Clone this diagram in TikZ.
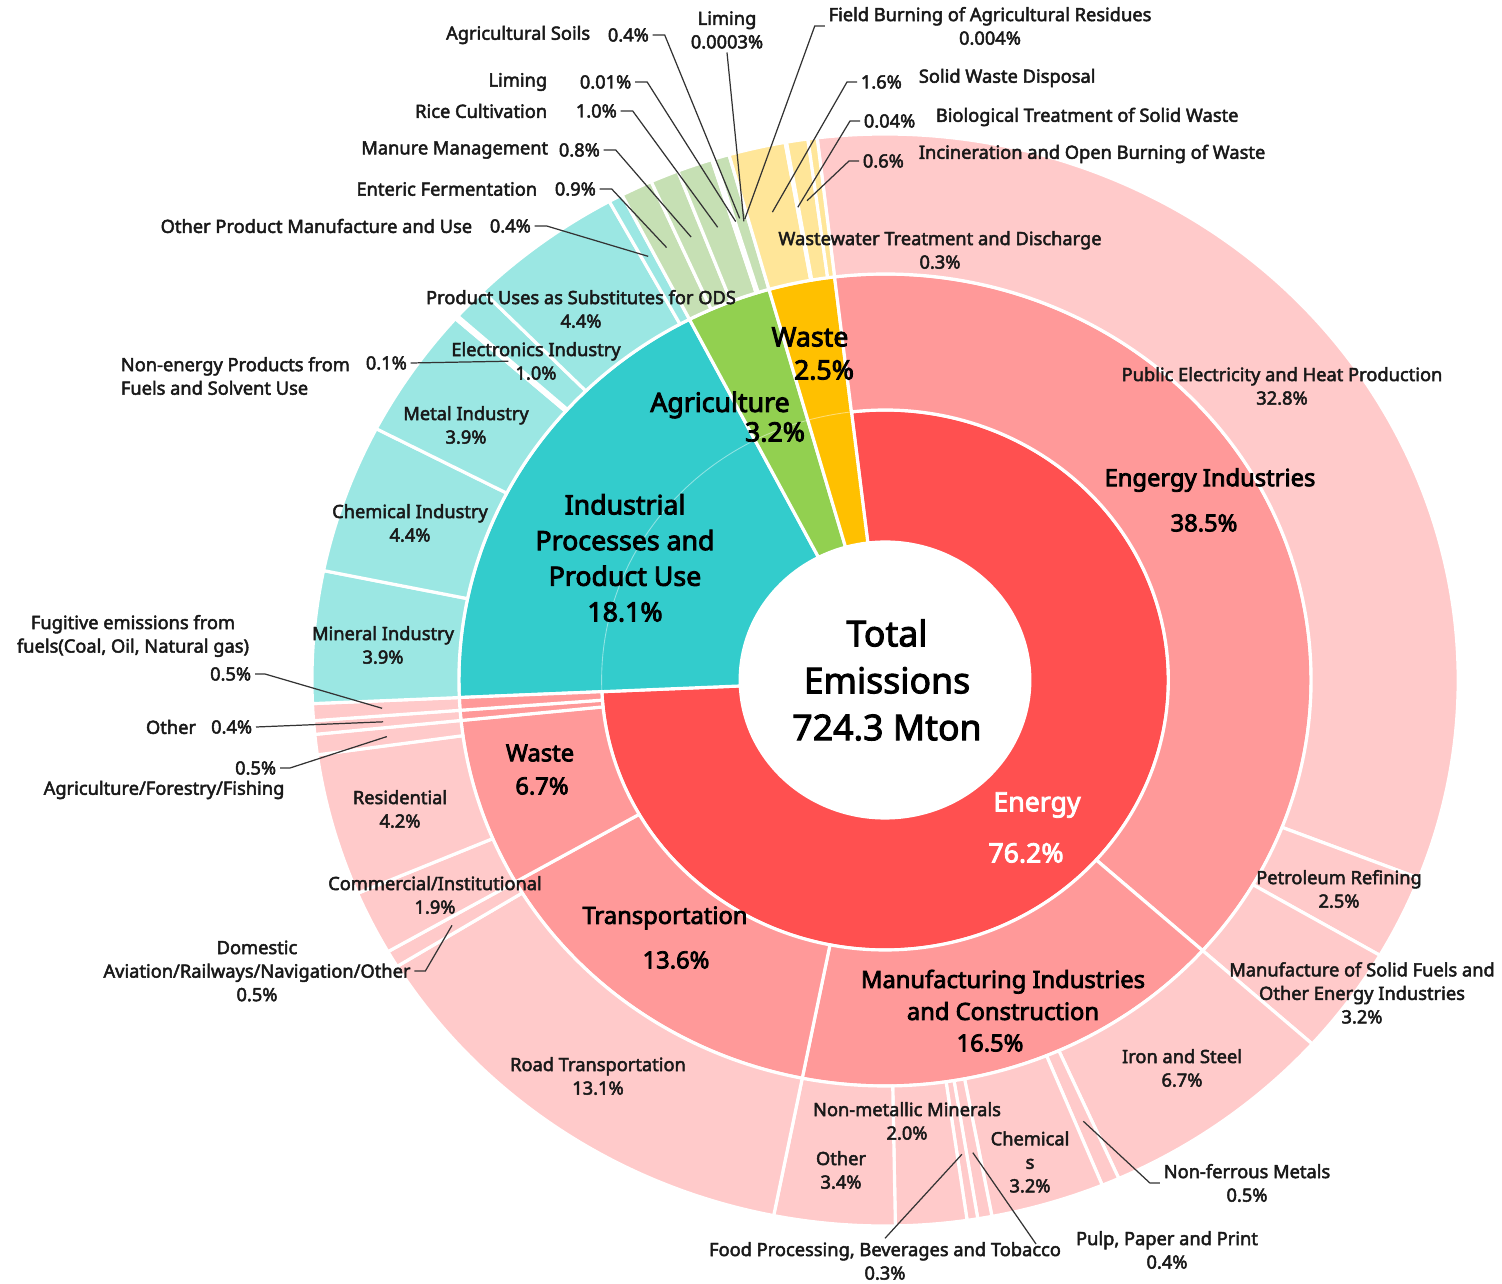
\documentclass[tikz,border=0pt]{standalone}
\usepackage{fontspec}
\setmainfont{Noto Sans}
\newfontfamily\lblfont{Noto Sans}[FakeBold=2.6]
\newfontfamily\catfont{Noto Sans}[FakeBold=3.2]
\usetikzlibrary{calc}
\definecolor{enA}{HTML}{FF5050}
\definecolor{enB}{HTML}{FF9999}
\definecolor{enC}{HTML}{FFCACA}
\definecolor{ipA}{HTML}{33CCCC}
\definecolor{ipC}{HTML}{9BE7E3}
\definecolor{agA}{HTML}{92D050}
\definecolor{agC}{HTML}{C6E0B4}
\definecolor{waA}{HTML}{FFC000}
\definecolor{waC}{HTML}{FFE699}
\def\ringpart[#1](#2:#3:#4:#5){\filldraw[fill=#1, draw=white, line width=1.8pt, line join=round] ({96.8-3.6*#4}:#2) arc[start angle={96.8-3.6*#4}, end angle={96.8-3.6*#5}, radius=#2] -- ({96.8-3.6*#5}:#3) arc[start angle={96.8-3.6*#5}, end angle={96.8-3.6*#4}, radius=#3] -- cycle;}
\tikzset{
  lbl/.style={font=\lblfont\fontsize{10.4}{13.4}\selectfont, text=black!90, align=center, inner sep=2pt},
  catlbl/.style={font=\catfont\fontsize{15.2}{20.3}\selectfont, align=center, inner sep=1pt},
  sublbl/.style={font=\catfont\fontsize{13.5}{18.2}\selectfont, align=center, inner sep=1pt},
  leader/.style={draw=black!80, line width=0.7pt}
}
\begin{document}
\begin{tikzpicture}[x=0.02cm, y=-0.02cm]
				\useasboundingbox (0,0) rectangle (1502,1284);
				
				\begin{scope}[shift={(885,680)}, x=0.021cm, y=0.02cm]
				\ringpart[enA](138:270:0:76.2)
				\ringpart[ipA](138:406:76.2:94.3)
				\ringpart[agA](138:406:94.3:97.5)
				\ringpart[waA](138:406:97.5:100)
				\draw[white, opacity=0.45, line width=0.5pt] ({96.8-3.6*76.2}:270) arc[start angle={96.8-3.6*76.2}, end angle={96.8-3.6*100}, radius=270];
				
				\ringpart[enB](270:406:0:38.5)
				\ringpart[enB](270:406:38.5:55)
				\ringpart[enB](270:406:55:68.6)
				\ringpart[enB](270:406:68.6:75.3)
				\ringpart[enB](270:406:75.3:75.7)
				\ringpart[enB](270:406:75.7:76.2)
				
				\ringpart[enC](406:546:0:32.8)
				\ringpart[enC](406:546:32.8:35.3)
				\ringpart[enC](406:546:35.3:38.5)
				\ringpart[enC](406:546:38.5:45.2)
				\ringpart[enC](406:546:45.2:45.7)
				\ringpart[enC](406:546:45.7:48.9)
				\ringpart[enC](406:546:48.9:49.3)
				\ringpart[enC](406:546:49.3:49.6)
				\ringpart[enC](406:546:49.6:51.6)
				\ringpart[enC](406:546:51.6:55)
				\ringpart[enC](406:546:55:68.1)
				\ringpart[enC](406:546:68.1:68.6)
				\ringpart[enC](406:546:68.6:70.5)
				\ringpart[enC](406:546:70.5:74.7)
				\ringpart[enC](406:546:74.7:75.3)
				\ringpart[enC](406:546:75.3:75.7)
				\ringpart[enC](406:546:75.7:76.2)
				
				\ringpart[ipC](406:546:76.2:80.1)
				\ringpart[ipC](406:546:80.1:84.5)
				\ringpart[ipC](406:546:84.5:88.4)
				\ringpart[ipC](406:546:88.4:88.5)
				\ringpart[ipC](406:546:88.5:89.5)
				\ringpart[ipC](406:546:89.5:93.9)
				\ringpart[ipC](406:546:93.9:94.3)
				
				\ringpart[agC](406:546:94.3:95.2)
				\ringpart[agC](406:546:95.2:96)
				\ringpart[agC](406:546:96:97)
				\ringpart[agC](406:546:97:97.08)
				\ringpart[agC](406:546:97.08:97.5)
				
				\ringpart[waC](406:546:97.5:99.1)
				\ringpart[waC](406:546:99.1:99.14)
				\ringpart[waC](406:546:99.14:99.74)
				\ringpart[waC](406:546:99.74:100)
				
				\coordinate (xOthProd) at ({96.8-3.6*94.1}:480);
				\coordinate (xEnteric) at ({96.8-3.6*94.75}:480);
				\coordinate (xManure) at ({96.8-3.6*95.6}:480);
				\coordinate (xRice) at ({96.8-3.6*96.5}:480);
				\coordinate (xLiming) at ({96.8-3.6*97.1}:480);
				\coordinate (xSoils) at ({96.8-3.6*97.25}:482);
				\coordinate (xLimingB) at ({96.8-3.6*97.35}:478);
				\coordinate (xField) at ({96.8-3.6*97.4}:480);
				\coordinate (xSolid) at ({96.8-3.6*98.3}:480);
				\coordinate (xBio) at ({96.8-3.6*99.12}:480);
				\coordinate (xIncin) at ({96.8-3.6*99.44}:485);
				\coordinate (xNonEn) at ({96.8-3.6*88.45}:480);
				\coordinate (xFug) at ({96.8-3.6*75.95}:480);
				\coordinate (xOther) at ({96.8-3.6*75.5}:480);
				\coordinate (xAFF) at ({96.8-3.6*75}:478);
				\coordinate (xDom) at ({96.8-3.6*68.35}:480);
				\coordinate (xNonFe) at ({96.8-3.6*45.45}:480);
				\coordinate (xPulp) at ({96.8-3.6*49.1}:480);
				\coordinate (xFood) at ({96.8-3.6*49.45}:480);
				\end{scope}
				
				\node[lbl, font=\lblfont\fontsize{20.3}{26.7}\selectfont, text=black] (total) at (887,680) {Total\\Emissions\\724.3 Mton};
				\node[catlbl, text=white] (enLbl) at (1037,805) {Energy};
				\node[catlbl, text=white] (enPct) at (1026,853) {76.2\%};
				\node[catlbl] (ippu) at (625,558) {Industrial\\Processes and\\Product Use\\18.1\%};
				\node[catlbl] (agLbl) at (720,405) {Agriculture};
				\node[catlbl] (agPct) at (775,432) {3.2\%};
				\node[catlbl] (waLbl) at (810,337) {Waste};
				\node[catlbl] (waPct) at (824,370) {2.5\%};
				
				\node[sublbl] (enind) at (1210,480) {Engergy Industries};
				\node[sublbl] (enindPct) at (1204,523) {38.5\%};
				\node[sublbl] (mfg) at (1003,995) {Manufacturing Industries\\and Construction};
				\node[sublbl] (mfgPct) at (990,1043) {16.5\%};
				\node[sublbl] (trans) at (665,918) {Transportation};
				\node[sublbl] (transPct) at (676,960) {13.6\%};
				\node[sublbl] (enwa) at (540,753) {Waste};
				\node[sublbl] (enwaPct) at (542,786) {6.7\%};
				
				\node[lbl, anchor=east] (othprodT) at (476,226) {Other Product Manufacture and Use};
				\node[lbl, anchor=west] (othprod) at (486,226) {0.4\%};
				\node[lbl, anchor=east] (entericT) at (541,189) {Enteric Fermentation};
				\node[lbl, anchor=west] (enteric) at (551,189) {0.9\%};
				\node[lbl, anchor=east] (manureT) at (552,150) {Manure Management};
				\node[lbl, anchor=west] (manure) at (555,150) {0.8\%};
				\node[lbl, anchor=east] (riceT) at (551,111) {Rice Cultivation};
				\node[lbl, anchor=west] (rice) at (572,111) {1.0\%};
				\node[lbl, anchor=east] (limingT) at (551,82) {Liming};
				\node[lbl, anchor=west] (liming) at (576,82) {0.01\%};
				\node[lbl, anchor=east] (soilsT) at (594,35) {Agricultural Soils};
				\node[lbl, anchor=west] (soils) at (604,35) {0.4\%};
				\node[lbl] (limingB) at (727,30) {Liming\\0.0003\%};
				\node[lbl] (field) at (990,26) {Field Burning of Agricultural Residues\\0.004\%};
				
				\node[lbl, anchor=west] (solid) at (857,82) {1.6\%};
				\node[lbl, anchor=west] (solidT) at (915,78) {Solid Waste Disposal};
				\node[lbl, anchor=west] (bio) at (860,121) {0.04\%};
				\node[lbl, anchor=west] (bioT) at (932,117) {Biological Treatment of Solid Waste};
				\node[lbl, anchor=west] (incin) at (859,161) {0.6\%};
				\node[lbl, anchor=west] (incinT) at (915,154) {Incineration and Open Burning of Waste};
				\node[lbl] (wwater) at (940,250) {Wastewater Treatment and Discharge\\0.3\%};
				
				\node[lbl] (pubel) at (1282,386) {Public Electricity and Heat Production\\32.8\%};
				\node[lbl] (petro) at (1339,889) {Petroleum Refining\\2.5\%};
				\node[lbl] (solidfuel) at (1362,993) {Manufacture of Solid Fuels and\\Other Energy Industries\\3.2\%};
				\node[lbl] (iron) at (1182,1068) {Iron and Steel\\6.7\%};
				\node[lbl] (nonfe) at (1247,1183) {Non-ferrous Metals\\0.5\%};
				\node[lbl] (pulp) at (1167,1250) {Pulp, Paper and Print\\0.4\%};
				\node[lbl] (food) at (885,1261) {Food Processing, Beverages and Tobacco\\0.3\%};
				\node[lbl] (chem) at (1030,1162) {Chemical\\s\\3.2\%};
				\node[lbl] (nonmet) at (907,1121) {Non-metallic Minerals\\2.0\%};
				\node[lbl] (othmfg) at (841,1170) {Other\\3.4\%};
				\node[lbl] (road) at (598,1076) {Road Transportation\\13.1\%};
				
				\node[lbl] (dom) at (257,971) {Domestic\\Aviation/Railways/Navigation/Other\\0.5\%};
				\node[lbl] (comm) at (435,895) {Commercial/Institutional\\1.9\%};
				\node[lbl] (resid) at (400,809) {Residential\\4.2\%};
				\node[lbl, anchor=east] (aff) at (280,768) {0.5\%};
				\node[lbl] (affT) at (164,790) {Agriculture/Forestry/Fishing};
				\node[lbl] (othT) at (171,727) {Other};
				\node[lbl, anchor=east] (oth) at (256,727) {0.4\%};
				\node[lbl] (fugT) at (133,636) {Fugitive emissions from\\fuels(Coal, Oil, Natural gas)};
				\node[lbl, anchor=east] (fug) at (255,674) {0.5\%};
				
				\node[lbl] (mineral) at (383,645) {Mineral Industry\\3.9\%};
				\node[lbl] (chemind) at (410,523) {Chemical Industry\\4.4\%};
				\node[lbl] (metal) at (466,425) {Metal Industry\\3.9\%};
				\node[lbl, anchor=west, align=left] (nonenT) at (117,376) {Non-energy Products from\\Fuels and Solvent Use};
				\node[lbl, anchor=west] (nonen) at (362,363) {0.1\%};
				\node[lbl] (elec) at (536,361) {Electronics Industry\\1.0\%};
				\node[lbl] (ods) at (581,309) {Product Uses as Substitutes for ODS\\4.4\%};
				
				\coordinate (pulpEnd) at (1036,1244);
				
				\draw[leader] (othprod.east) -- ++(12,0) -- (xOthProd);
				\draw[leader] (enteric.east) -- ++(12,0) -- (xEnteric);
				\draw[leader] (manure.east) -- ++(12,0) -- (xManure);
				\draw[leader] (rice.east) -- ++(12,0) -- (xRice);
				\draw[leader] (liming.east) -- ++(12,0) -- (xLiming);
				\draw[leader] (soils.east) -- ++(12,0) -- (xSoils);
				\draw[leader] (limingB.south) -- (xLimingB);
				\draw[leader] (field.west) -- ++(-10,0) -- (xField);
				\draw[leader] (solid.west) -- ++(-10,0) -- (xSolid);
				\draw[leader] (bio.west) -- ++(-10,0) -- (xBio);
				\draw[leader] (incin.west) -- ++(-10,0) -- (xIncin);
				\draw[leader] (nonen.east) -- (xNonEn);
				\draw[leader] (fug.east) -- ++(10,0) -- (xFug);
				\draw[leader] (oth.east) -- (xOther);
				\draw[leader] (aff.east) -- ++(10,0) -- (xAFF);
				\draw[leader] (dom.east) -- ++(11,0) -- (xDom);
				\draw[leader] (nonfe.west) -- ++(-10,0) -- (xNonFe);
				\draw[leader] (xPulp) -- (pulpEnd);
				\draw[leader] (xFood) -- (food.north);
			\end{tikzpicture}
\end{document}
